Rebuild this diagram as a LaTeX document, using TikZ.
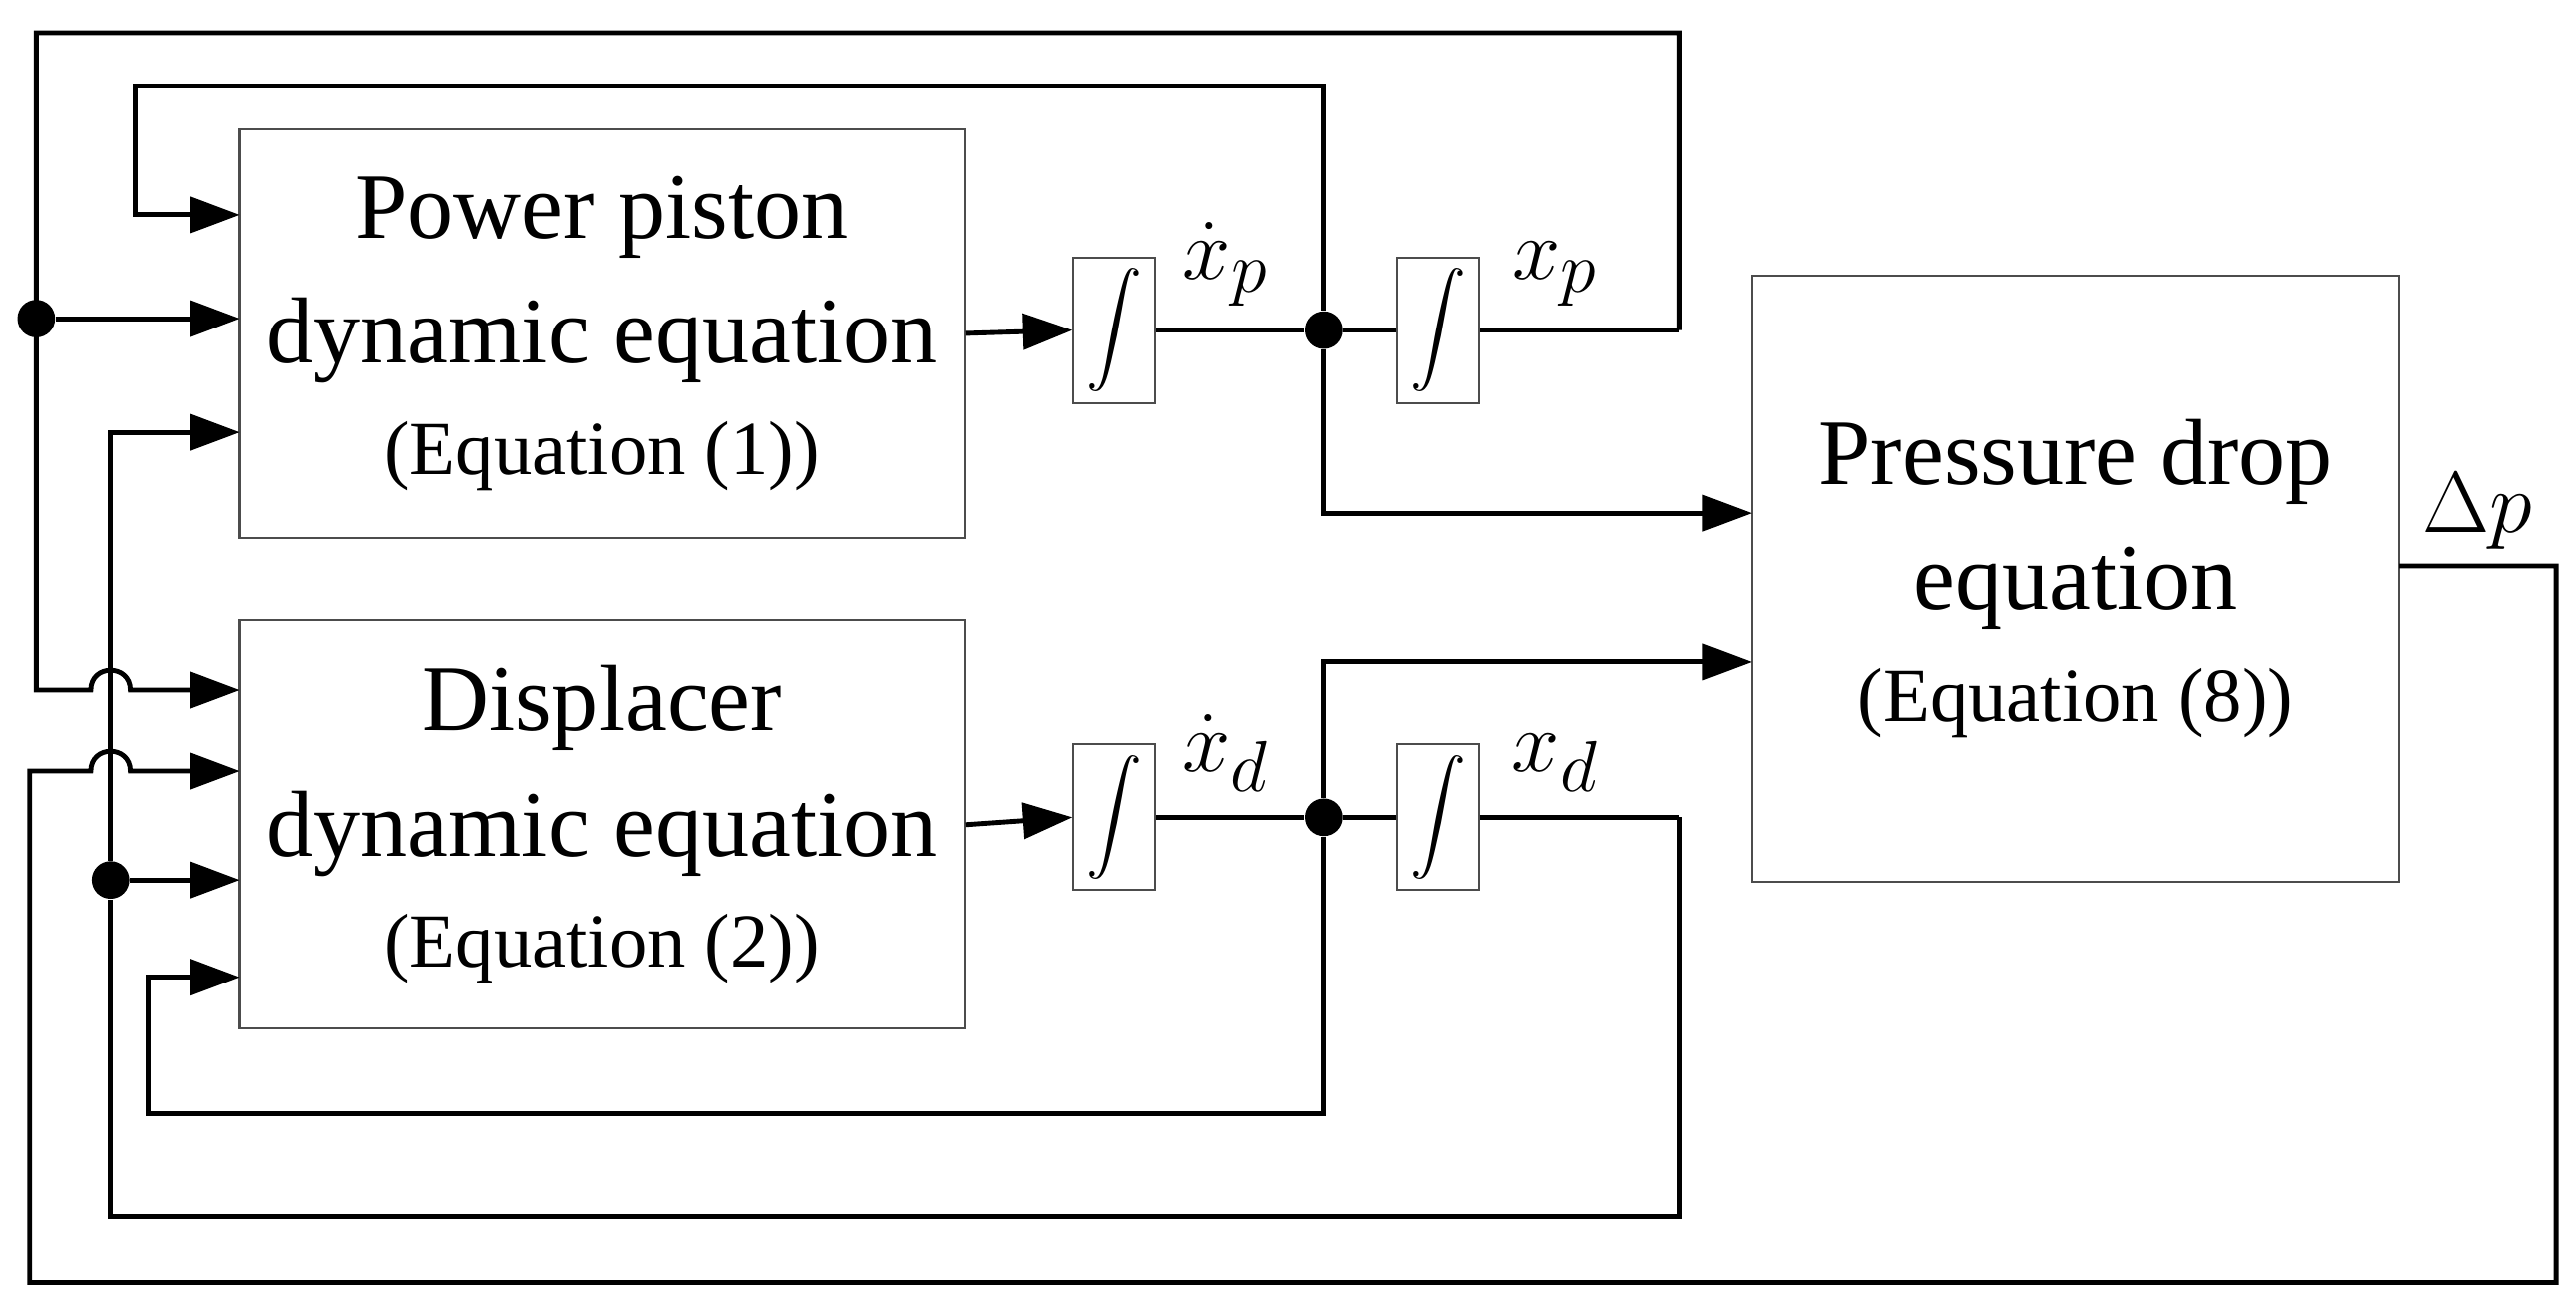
\documentclass[tikz,border=0pt]{standalone}
\usepackage{fontspec}
\setmainfont{Liberation Serif}
\usetikzlibrary{arrows.meta}
\begin{document}
\begin{tikzpicture}[x=0.01667cm,y=-0.01667cm,
    blk/.style={draw=black!70,line width=0.6pt,align=center,font=\fontsize{27}{36}\selectfont},
    intg/.style={draw=black!70,line width=0.6pt,minimum width=0.82cm,minimum height=1.47cm,inner sep=0pt},
    wire/.style={line width=1.4pt},
    arr/.style={wire,-{Triangle[length=0.5cm,width=0.36cm]}},
    dot/.style={circle,fill,inner sep=0pt,minimum size=0.38cm},
    lbl/.style={font=\fontsize{30}{30}\selectfont}]

        \useasboundingbox (0,0) rectangle (1560,794);

        % blocks
        \node[blk,minimum width=7.32cm,minimum height=4.13cm] (pp) at (364.5,202) {Power piston\\dynamic equation\\[-4pt]{\fontsize{22}{26}\selectfont (Equation (1))}};
        \node[blk,minimum width=7.32cm,minimum height=4.12cm] (dd) at (364.5,499.5) {Displacer\\dynamic equation\\[-4pt]{\fontsize{22}{26}\selectfont (Equation (2))}};
        \node[blk,minimum width=6.53cm,minimum height=6.12cm] (pd) at (1257,350.5) {Pressure drop\\equation\\[-4pt]{\fontsize{22}{26}\selectfont (Equation (8))}};

        % integrators
        \node[intg] (i1) at (674.5,200) {\scalebox{1.6}{$\displaystyle\int$}};
        \node[intg] (i2) at (871,200) {\scalebox{1.6}{$\displaystyle\int$}};
        \node[intg] (i3) at (674.5,495) {\scalebox{1.6}{$\displaystyle\int$}};
        \node[intg] (i4) at (871,495) {\scalebox{1.6}{$\displaystyle\int$}};

        % junctions
        \node[dot] (jp) at (802,200) {};
        \node[dot] (jd) at (802,495) {};
        \node[dot] (ja) at (22,193) {};
        \node[dot] (jb) at (67,533) {};
        \coordinate (ox) at (1017,200);
        \coordinate (od) at (1017,495);
        \coordinate (dp) at (1453,343);

        % forward path
        \draw[arr] (pp.east) -- (i1.west);
        \draw[arr] (dd.east) -- (i3.west);
        \draw[wire] (i1.east) -- (jp) -- (i2.west);
        \draw[wire] (i3.east) -- (jd) -- (i4.west);
        \draw[wire] (i2.east) -- (ox);
        \draw[wire] (i4.east) -- (od);
        \draw[arr] (jp) |- (1061,311);
        \draw[arr] (jd) |- (1061,401);

        % feedback of x_p
        \draw[arr] (ox) |- (22,20) -- (22,418) -- (55,418)
            .. controls (55,402) and (79,402) .. (79,418) -- (145,418);
        \draw[arr] (ja) -- (145,193);
        \draw[arr] (jp) |- (82,52) |- (145,130);

        % feedback of x_d
        \draw[arr] (jd) |- (90,675) |- (145,592);
        \draw[wire] (od) |- (67,737) -- (jb);
        \draw[arr] (jb) |- (145,262);
        \draw[arr] (jb) -- (145,533);

        % feedback of pressure drop
        \draw[arr] (dp) -| (1548,777) -| (18,467) -- (55,467)
            .. controls (55,451) and (79,451) .. (79,467) -- (145,467);

        % labels
        \node[lbl] at (742,160) {$\dot{x}_p$};
        \node[lbl] at (942,166) {$x_p$};
        \node[lbl] at (742,456) {$\dot{x}_d$};
        \node[lbl] at (942,462) {$x_d$};
        \node[font=\fontsize{36}{36}\selectfont] at (1500,310) {$\Delta p$};

\end{tikzpicture}
\end{document}
